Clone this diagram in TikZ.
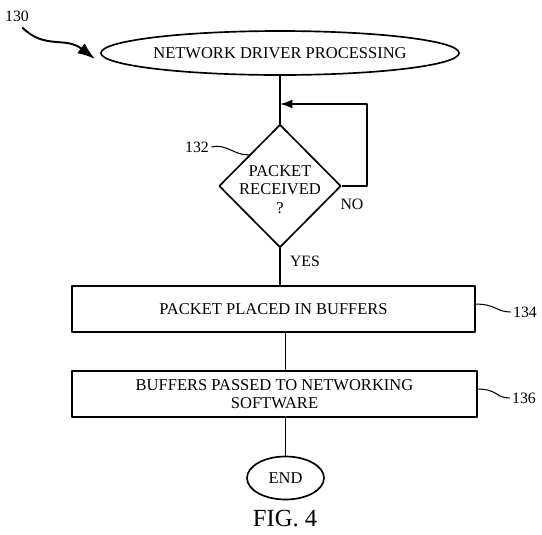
\documentclass[tikz,border=0pt]{standalone}
\usepackage{fontspec}
\setmainfont{Liberation Serif}
\usetikzlibrary{shapes.geometric,arrows.meta}
\begin{document}
\begin{tikzpicture}[x=0.02cm,y=-0.02cm,line join=round,line width=0.95pt,>={Latex[length=7pt,width=5pt]},font=\fontsize{9.4}{10.5}\selectfont,
    oval/.style={draw,ellipse,inner sep=0pt},
    decide/.style={draw,diamond,inner sep=0pt,minimum width=2.44cm,minimum height=2.46cm},
    stepbox/.style={draw,rectangle,inner sep=0pt,minimum height=0.92cm},
    refnum/.style={font=\fontsize{9}{10}\selectfont,inner sep=1pt}]
    \useasboundingbox (0,0) rectangle (542,535);
    \node[oval,minimum width=5.8cm,minimum height=0.88cm] (start) at (280,53) {NETWORK DRIVER PROCESSING};
    \node[decide] (recv) at (280,186) {};
    \node[align=center] (recvtext) at ([yshift=-2pt]recv) {PACKET\\RECEIVED\\?};
    \node[stepbox,minimum width=8.06cm] (place) at (273.5,309) {PACKET PLACED IN BUFFERS};
    \node[stepbox,minimum width=8.1cm,align=center] (pass) at (274.5,394) {BUFFERS PASSED TO NETWORKING\\SOFTWARE};
    \node[oval,minimum width=1.54cm,minimum height=0.86cm] (end) at (285.5,478) {END};
    \node[font=\fontsize{14}{16}\selectfont] (fig) at (285,519) {FIG. 4};
    % reference numerals
    \node[refnum] (n130) at (17,16) {130};
    \node[refnum] (n132) at (197,147) {132};
    \node[refnum] (n134) at (525,312) {134};
    \node[refnum] (n136) at (524,398) {136};
    \node[refnum] (no) at (352,204) {NO};
    \node[refnum] (yes) at (305,261) {YES};
    \coordinate (loop) at (280,104);
    \coordinate (c130) at (95,59);
    % flow
    \draw (start.south) -- (recv.north);
    \draw[->] (recv.east) -- ++(25,0) |- (loop);
    \draw (recv.south) -- (recv.south |- place.north);
    \draw (place.south -| end) -- (pass.north -| end);
    \draw (pass.south -| end) -- (end.north);
    % leaders
    \draw[line width=0.6pt] (n132.east) .. controls +(14,-4) and +(-14,1) .. (recv.north west);
    \draw[line width=0.6pt] ([yshift=2.8pt]place.east) .. controls +(20,0) and +(-14,0) .. (n134.west);
    \draw[line width=0.6pt] ([yshift=2.8pt]pass.east) .. controls +(20,0) and +(-14,0) .. (n136.west);
    \draw[line width=1.1pt,-{Latex[length=10pt,width=7pt]}] ([shift={(3pt,-2pt)}]n130.south) .. controls (45,50) and (65,36) .. (c130);
\end{tikzpicture}
\end{document}
